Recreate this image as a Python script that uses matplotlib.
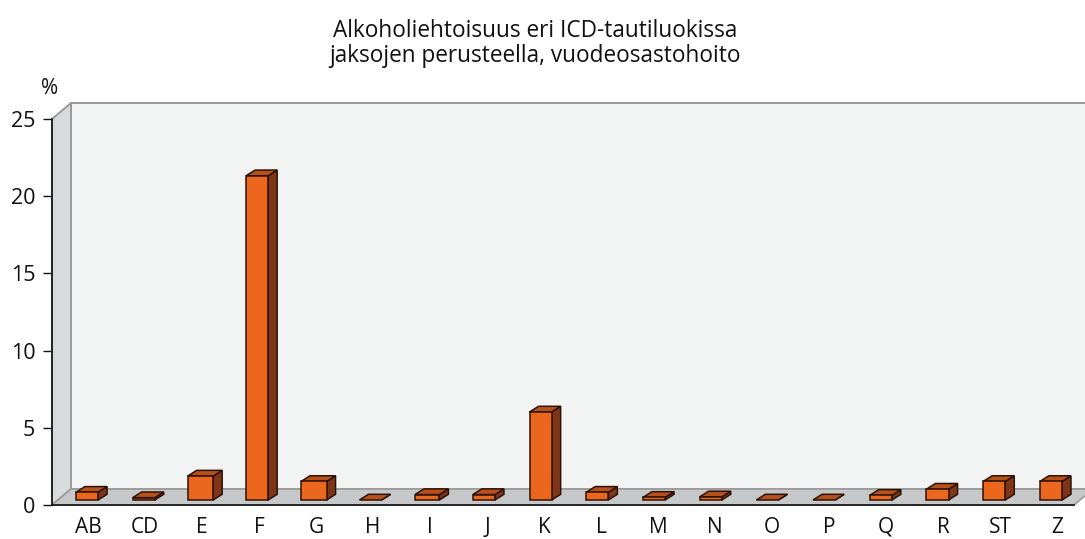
import numpy as np
import matplotlib
matplotlib.use("Agg")
import matplotlib.pyplot as plt
from matplotlib.patches import Polygon
from matplotlib.transforms import Affine2D

plt.rcParams['font.family'] = ['Open Sans', 'DejaVu Sans']

# data
categories = ['AB', 'CD', 'E', 'F', 'G', 'H', 'I', 'J', 'K', 'L', 'M', 'N', 'O', 'P', 'Q', 'R', 'ST', 'Z']
values = [0.5, 0.15, 1.55, 21.0, 1.2, 0.0, 0.35, 0.35, 5.7, 0.5, 0.17, 0.2, 0.0, 0.0, 0.3, 0.7, 1.2, 1.2]
yticks = [0, 5, 10, 15, 20, 25]
title = 'Alkoholiehtoisuus eri ICD-tautiluokissa\njaksojen perusteella, vuodeosastohoito'

W, H = 1085, 539
STEP = 56.7      # px per category
FIRST = 87.0     # px of first bar centre
LEFT, RIGHT, BOTTOM, TOP = 52, 1074, 505, 119

fig = plt.figure(figsize=(W / 100, H / 100), dpi=100)
ax = fig.add_axes([LEFT / W, 1 - BOTTOM / H, (RIGHT - LEFT) / W, (BOTTOM - TOP) / H])
ax.patch.set_alpha(0)
x0 = (LEFT - FIRST) / STEP
x1 = (RIGHT - FIRST) / STEP
ax.set_xlim(x0, x1)
ax.set_ylim(0, 25)

def shifted(dx, dy):
    # data coords moved by some pixels on screen (fake 3d depth)
    return ax.transData + Affine2D().translate(dx, dy)

def face(pts, color, edge, lw, z, tr=None):
    p = Polygon(pts, closed=True, facecolor=color, edgecolor=edge, linewidth=lw, zorder=z,
                transform=tr if tr is not None else ax.transData, clip_on=False)
    ax.add_patch(p)

# walls. the depth of the box is 19 px right and 16 px up
DX, DY = 19, 16
back_x = x1 + 1.0
off_x = DX / STEP
off_y = DY / (BOTTOM - TOP) * 25
face([(x0 + off_x, off_y), (back_x, off_y), (back_x, 25 + off_y), (x0 + off_x, 25 + off_y)], '#f2f4f3', '#9a9a9a', 1.4, 1)
face([(x0, 0), (x0 + off_x, off_y), (x0 + off_x, 25 + off_y), (x0, 25)], '#d9dadc', '#9a9a9a', 1.4, 2)
face([(x0, 0), (x1, 0), (x1 + off_x, off_y), (x0 + off_x, off_y)], '#c6c7c9', '#9a9a9a', 1.2, 3)

# bars
bar_w = {'E': 0.45, 'G': 0.45, 'I': 0.43}
EDGE = '#2b1206'
tr = shifted(0, 5)
ddx = 9 / STEP
ddy = 5.7 / (BOTTOM - TOP) * 25
for i, (c, v) in enumerate(zip(categories, values)):
    w = bar_w.get(c, 0.39)
    l, r = i - w / 2, i + w / 2
    face([(r, 0), (r + ddx, ddy), (r + ddx, v + ddy), (r, v)], '#7f3518', EDGE, 1.1, 4, tr)
    face([(l, v), (r, v), (r + ddx, v + ddy), (l + ddx, v + ddy)], '#b8501a', EDGE, 1.1, 4, tr)
    if v > 0:
        face([(l, 0), (r, 0), (r, v), (l, v)], '#ec671e', EDGE, 1.1, 5, tr)

for s in ['top', 'right']:
    ax.spines[s].set_visible(False)
for s in ['left', 'bottom']:
    ax.spines[s].set_linewidth(1.2)
    ax.spines[s].set_color('#111111')
    ax.spines[s].set_zorder(6)

ax.set_yticks(yticks)
ax.tick_params(axis='y', length=6.5, width=1.0, pad=5.5, labelsize=15.5, colors='#111111')
# labels sit on a slightly wider spacing than the bars
ax.set_xticks((np.arange(len(categories)) * 57.0 + 88 - FIRST) / STEP)
ax.set_xticklabels(categories)
ax.tick_params(axis='x', length=0, pad=8.5, labelsize=15, colors='#111111')

fig.text(50 / W, 1 - 88 / H, '%', ha='center', va='center', fontsize=15, color='#111111')
fig.text(535 / W, 1 - 43.5 / H, title, ha='center', va='center', fontsize=16.3, color='#111111', linespacing=1.02)

fig.savefig('out.png', dpi=100)
